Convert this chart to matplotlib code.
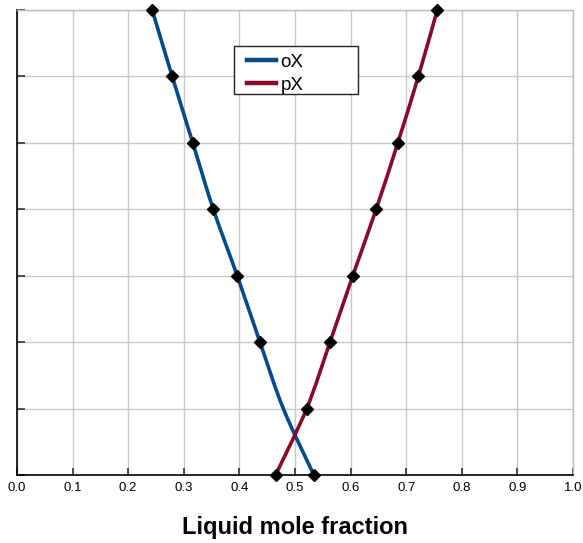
import matplotlib

matplotlib.use("Agg")
import matplotlib.pyplot as plt
import numpy as np
from matplotlib.patches import PathPatch, Rectangle
from matplotlib.path import Path

plt.rcParams["font.family"] = ["Liberation Sans", "DejaVu Sans"]

# levels along the (unlabelled) vertical axis
levels = [0, 1, 2, 3, 4, 5, 6, 7]

# liquid mole fraction for each level
ox_x = [0.534, 0.479, 0.437, 0.396, 0.353, 0.316, 0.279, 0.243]
px_x = [0.465, 0.521, 0.563, 0.604, 0.646, 0.685, 0.722, 0.756]

# oX has no measured point at level 1
ox_marks = [0, 2, 3, 4, 5, 6, 7]

x_ticks = np.round(np.arange(0, 1.01, 0.1), 1)


def smooth_path(xs, ys):
    # Catmull-Rom spline written as cubic Bezier segments (like a "smoothed line")
    pts = np.column_stack([xs, ys]).astype(float)
    verts = [pts[0]]
    codes = [Path.MOVETO]
    n = len(pts)
    for i in range(n - 1):
        p0 = pts[max(i - 1, 0)]
        p1 = pts[i]
        p2 = pts[i + 1]
        p3 = pts[min(i + 2, n - 1)]
        verts += [p1 + (p2 - p0) / 6, p2 - (p3 - p1) / 6, p2]
        codes += [Path.CURVE4] * 3
    return Path(verts, codes)


fig = plt.figure(figsize=(5.83, 5.43), dpi=100)
ax = fig.add_axes([0.029, 0.125, 0.954, 0.8575])

blue = "#004a8a"
red = "#870a2c"

for xs, color in [(ox_x, blue), (px_x, red)]:
    ax.add_patch(PathPatch(smooth_path(xs, levels), facecolor="none",
                           edgecolor=color, lw=2.6, zorder=3, capstyle="round"))
ax.plot([ox_x[i] for i in ox_marks], [levels[i] for i in ox_marks], "D",
        color="black", ms=6.5, zorder=4, clip_on=False)
ax.plot(px_x, levels, "D", color="black", ms=6.5, zorder=4, clip_on=False)

ax.set_xlim(0, 1)
ax.set_ylim(0, 7)
ax.set_xticks(x_ticks)
ax.set_xticklabels([f"{v:.1f}" for v in x_ticks], fontsize=9.5)
ax.set_yticks(levels)
ax.set_yticklabels([])
ax.tick_params(direction="in", length=5, width=1.2, color="#333333", pad=5)
ax.tick_params(axis="y", length=6)

ax.grid(True, color="#c8c8c8", lw=1)
ax.set_axisbelow(True)
for side in ["top", "right"]:
    ax.spines[side].set_color("#bdbdbd")
    ax.spines[side].set_linewidth(1)
for side in ["left", "bottom"]:
    ax.spines[side].set_color("black")
    ax.spines[side].set_linewidth(1.2)

ax.set_xlabel("Liquid mole fraction", fontsize=17, fontweight="bold", labelpad=16)

# legend: entries without frame, box drawn separately to keep the wide frame
ax.plot([], [], color=blue, lw=3.2, label="oX")
ax.plot([], [], color=red, lw=3.2, label="pX")
handles, labels = ax.get_legend_handles_labels()
leg = ax.legend(handles[-2:], labels[-2:], loc="upper left",
                bbox_to_anchor=(0.4137, 0.905), fontsize=13.5, frameon=False,
                handlelength=1.55, handletextpad=0.25, borderpad=0,
                labelspacing=0.3, borderaxespad=0)
ax.add_patch(Rectangle((0.391, 0.818), 0.222, 0.103, transform=ax.transAxes,
                       facecolor="white", edgecolor="#222222", lw=1, zorder=5))
leg.set_zorder(6)

fig.savefig("out.png", dpi=100)
